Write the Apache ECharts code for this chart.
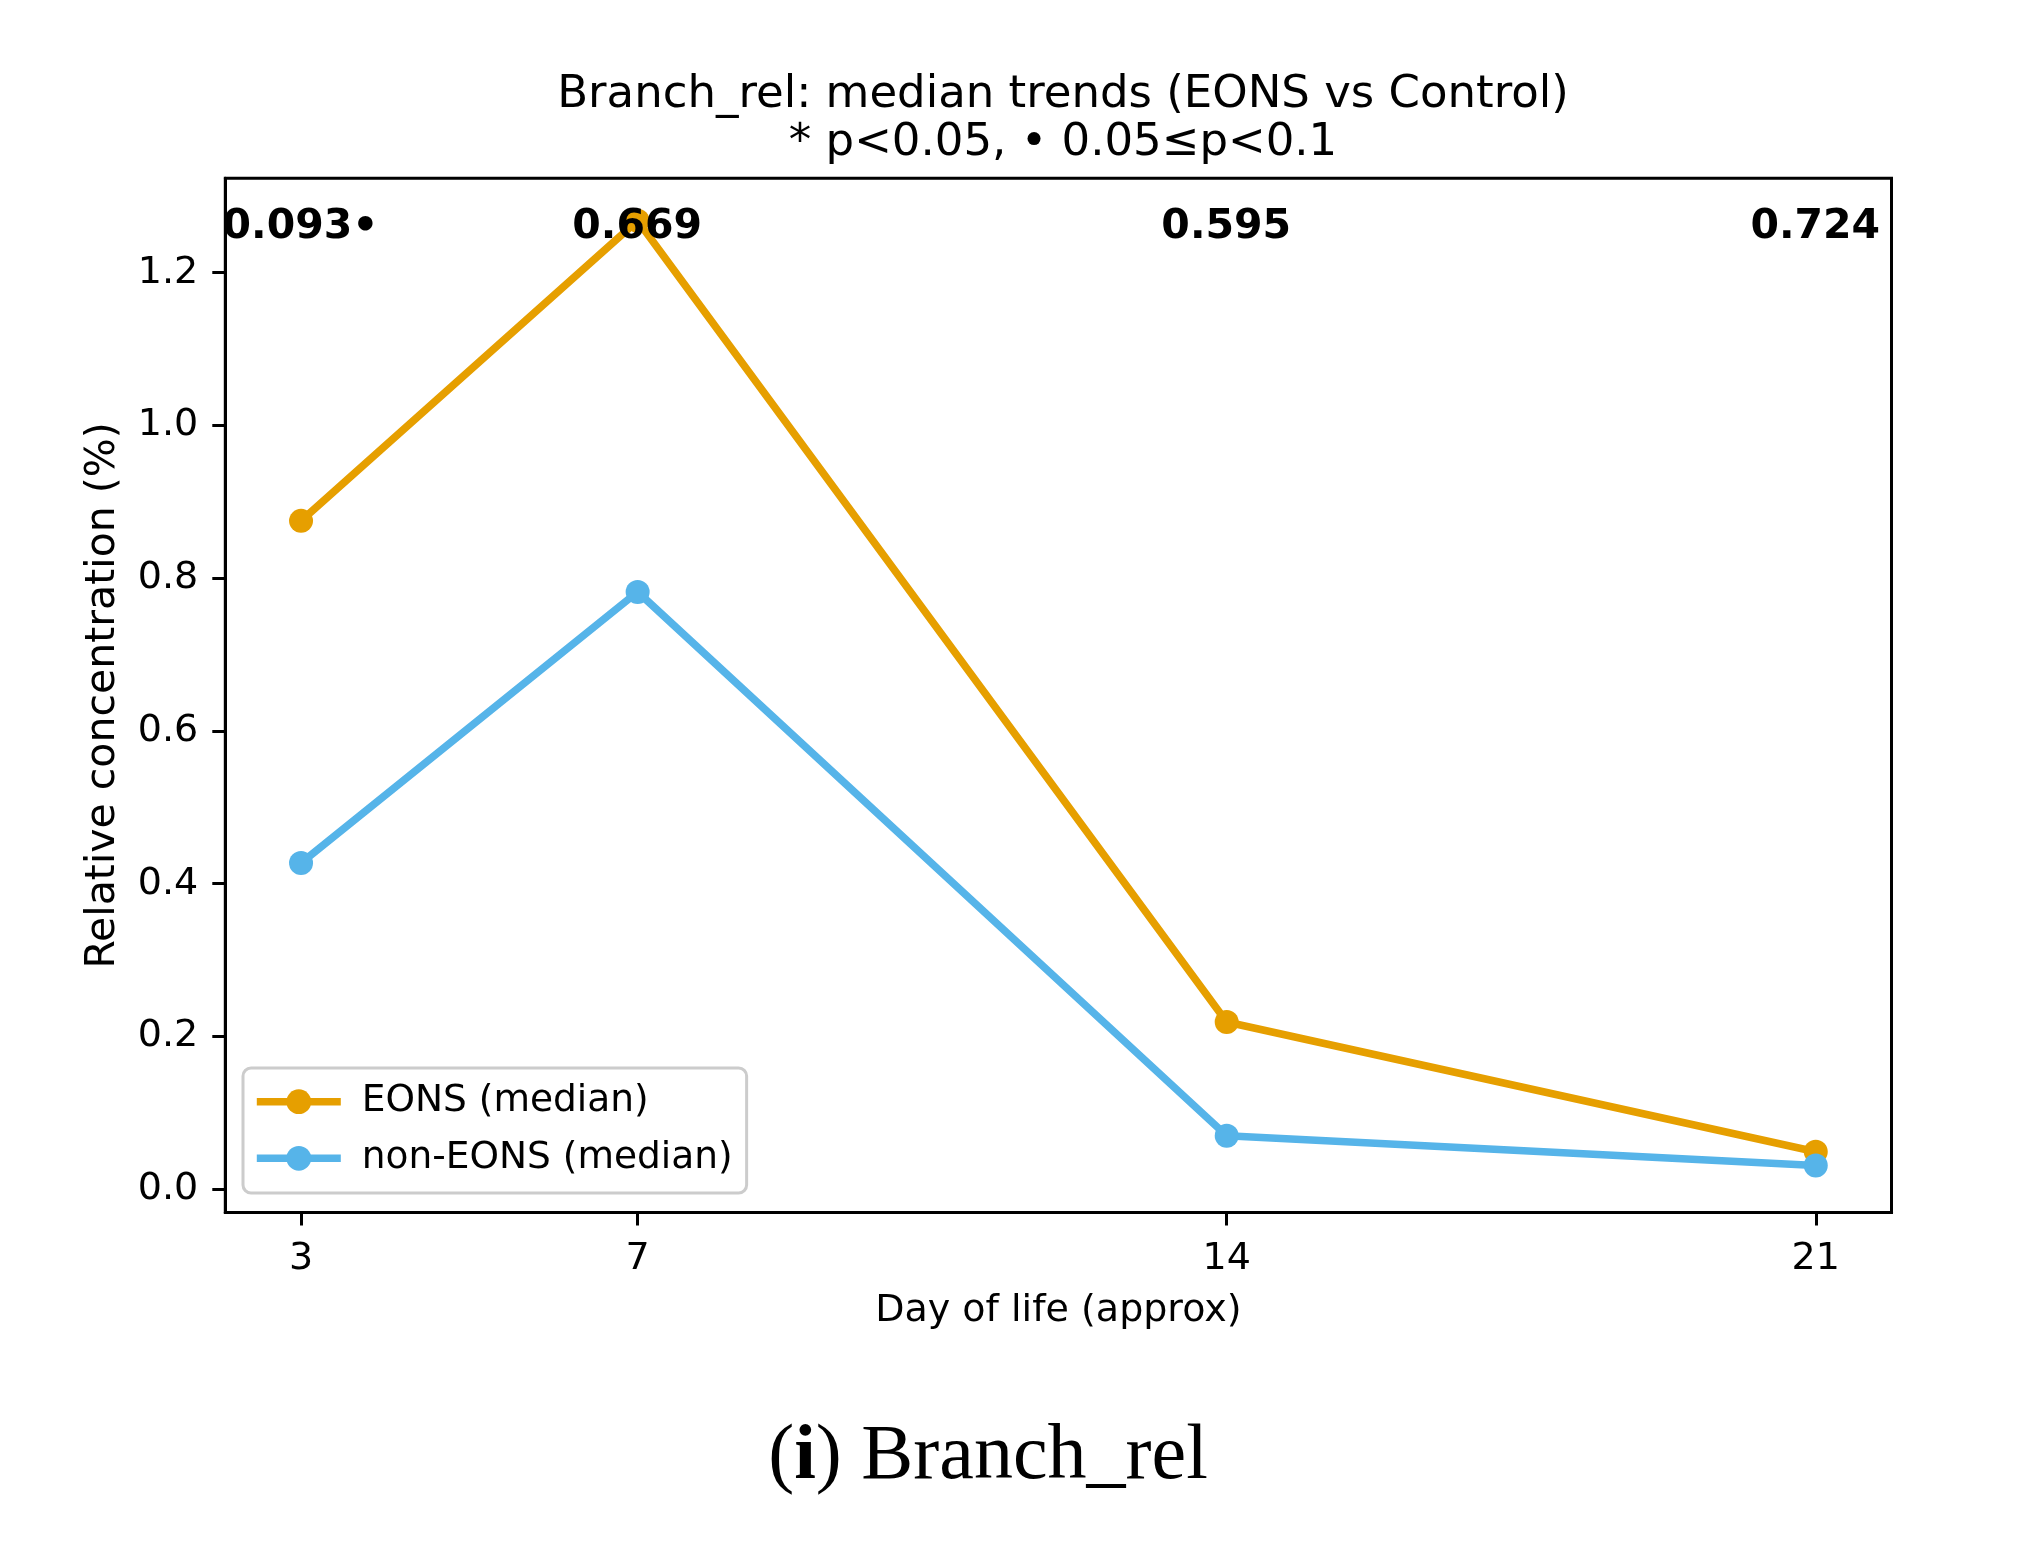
<!DOCTYPE html>
<html>
<head>
<meta charset="utf-8">
<script src="https://cdn.jsdelivr.net/npm/echarts@6/dist/echarts.min.js"></script>
<style>
html,body{margin:0;padding:0;background:#fff;}
#chart{width:2019px;height:1544px;}
</style>
</head>
<body>
<div id="chart"></div>
<script>
// ---- data ----
const days = [3, 7, 14, 21];
const eonsMedian = [0.875, 1.268, 0.219, 0.049];
const nonEonsMedian = [0.427, 0.782, 0.070, 0.031];
const pLabels = ['0.093\u2022', '0.669', '0.595', '0.724'];
const pLabelY = 1.258;
const xTicks = [3, 7, 14, 21];
const yTicks = [0, 0.2, 0.4, 0.6, 0.8, 1.0, 1.2];
const seriesNames = ['EONS (median)', 'non-EONS (median)'];
const titleText = 'Branch_rel: median trends (EONS vs Control)\n* p<0.05, \u2022 0.05\u2264p<0.1';
const xName = 'Day of life (approx)';
const yName = 'Relative concentration (%)';
const captionLabel = 'i';
const captionText = 'Branch_rel';

const FONT = 'DejaVu Sans';
const chart = echarts.init(document.getElementById('chart'), null, {renderer: 'canvas'});

const toPairs = (xs, ys) => xs.map((x, i) => [x, ys[i]]);

const option = {
  animation: false,
  backgroundColor: '#ffffff',
  textStyle: {fontFamily: FONT, color: '#000'},
  title: {
    text: titleText,
    left: 1058,
    top: 66,
    textAlign: 'center',
    textStyle: {fontFamily: FONT, fontSize: 45, fontWeight: 'normal', color: '#000', lineHeight: 48}
  },
  grid: {
    left: 225.3, right: 127.5, top: 178.3, bottom: 331.5,
    show: true, borderColor: '#000', borderWidth: 3, backgroundColor: 'transparent'
  },
  legend: {
    orient: 'vertical',
    left: 243, top: 1068,
    data: seriesNames,
    padding: [13.7, 14, 14.7, 10],
    itemGap: 16.6,
    itemWidth: 84,
    itemHeight: 31,
    borderColor: '#cccccc',
    borderWidth: 3,
    borderRadius: 8,
    backgroundColor: 'rgba(255,255,255,0.8)',
    lineStyle: {width: 7.6},
    textStyle: {fontFamily: FONT, fontSize: 37.5, color: '#000', lineHeight: 40, padding: [0, 0, 0, 16]}
  },
  xAxis: {
    type: 'value',
    min: 2.1, max: 21.9,
    name: xName,
    nameLocation: 'middle',
    nameGap: 80,
    nameTextStyle: {fontFamily: FONT, fontSize: 38, color: '#000'},
    axisLine: {show: true, onZero: false, lineStyle: {color: '#000', width: 3}},
    axisTick: {show: true, inside: false, length: 13, lineStyle: {color: '#000', width: 3}, customValues: xTicks},
    axisLabel: {show: true, margin: 28, fontFamily: FONT, fontSize: 38, color: '#000', customValues: xTicks, formatter: v => String(v)},
    splitLine: {show: false}
  },
  yAxis: {
    type: 'value',
    min: -0.0305, max: 1.3235,
    name: yName,
    nameLocation: 'middle',
    nameRotate: 90,
    nameGap: 101,
    nameTextStyle: {fontFamily: FONT, fontSize: 41, color: '#000'},
    axisLine: {show: true, onZero: false, lineStyle: {color: '#000', width: 3}},
    axisTick: {show: true, inside: false, length: 13, lineStyle: {color: '#000', width: 3}, customValues: yTicks},
    axisLabel: {show: true, margin: 27, fontFamily: FONT, fontSize: 38, color: '#000', customValues: yTicks, formatter: v => Number(v).toFixed(1)},
    splitLine: {show: false}
  },
  series: [
    {
      name: seriesNames[0], type: 'line', data: toPairs(days, eonsMedian),
      symbol: 'circle', symbolSize: 24, showSymbol: true,
      lineStyle: {color: '#E69F00', width: 7.6},
      itemStyle: {color: '#E69F00'},
      emphasis: {disabled: true}, z: 2
    },
    {
      name: seriesNames[1], type: 'line', data: toPairs(days, nonEonsMedian),
      symbol: 'circle', symbolSize: 24, showSymbol: true,
      lineStyle: {color: '#56B4E9', width: 7.6},
      itemStyle: {color: '#56B4E9'},
      emphasis: {disabled: true}, z: 3
    },
    {
      name: 'p-values', type: 'scatter',
      data: days.map((d, i) => ({value: [d, pLabelY], label: {formatter: pLabels[i]}})),
      symbolSize: 1,
      itemStyle: {color: 'rgba(0,0,0,0)', opacity: 1},
      label: {show: true, position: [0, 0], align: 'center', verticalAlign: 'middle', opacity: 1,
              fontFamily: FONT, fontSize: 41, fontWeight: 'bold', color: '#000', textBorderWidth: 0},
      emphasis: {disabled: true}, z: 10, silent: true
    }
  ],
  graphic: [
    {
      type: 'text',
      style: {
        x: 988, y: 1458,
        text: '{p|(}{b|' + captionLabel + '}{p|) ' + captionText + '}',
        align: 'center', verticalAlign: 'middle',
        rich: {
          p: {fontFamily: 'Liberation Serif', fontSize: 78, color: '#000'},
          b: {fontFamily: 'Liberation Serif', fontSize: 78, fontWeight: 'bold', color: '#000'}
        }
      }
    }
  ]
};
chart.setOption(option);
</script>
</body>
</html>
